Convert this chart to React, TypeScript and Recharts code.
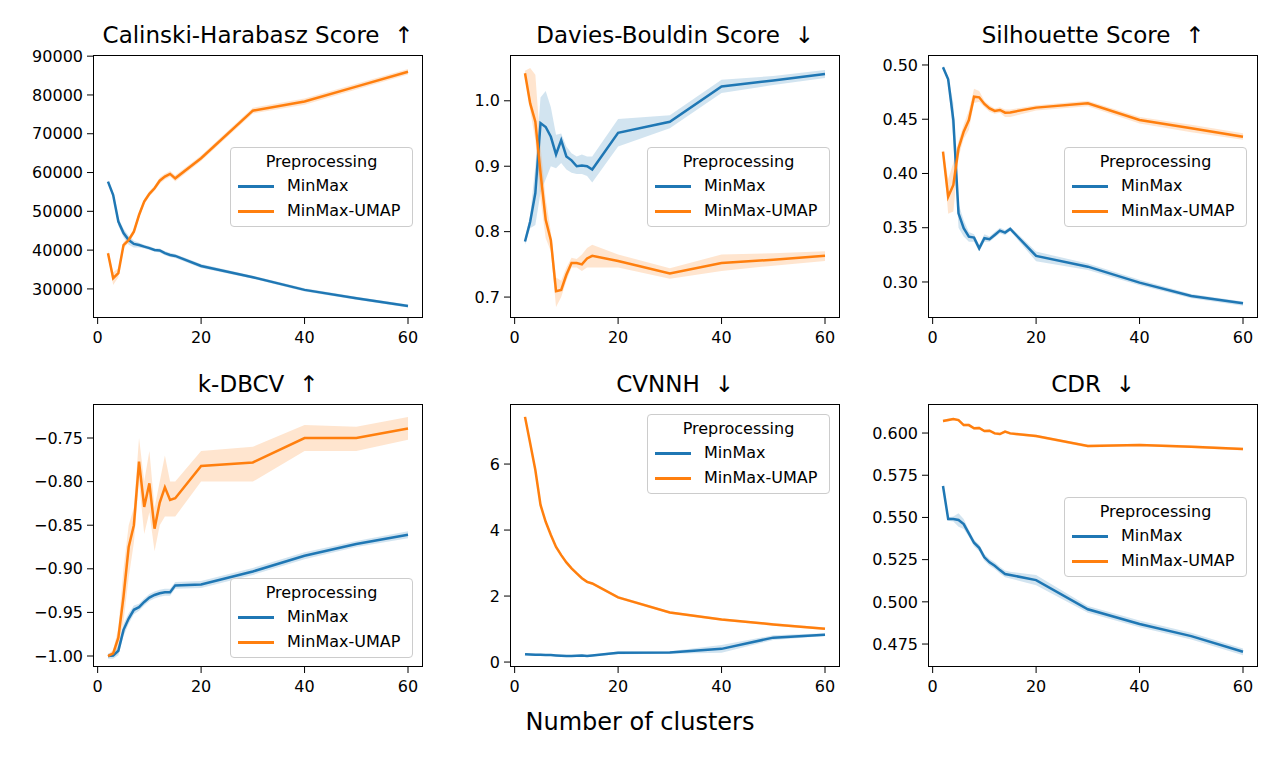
import { ComposedChart, Area, Line, XAxis, YAxis } from 'recharts'

const CLUSTERS = [2, 3, 4, 5, 6, 7, 8, 9, 10, 11, 12, 13, 14, 15, 20, 30, 40, 50, 60]
const X_TICKS = [0, 20, 40, 60]

// Calinski-Harabasz
const CH_MM = [57650, 54200, 47350, 44400, 42600, 41600, 41300, 40900, 40500, 40050, 39900, 39200, 38750, 38500, 35900, 33000, 29750, 27600, 25600]
const CH_MM_LO = [57300, 53600, 46300, 43300, 41400, 40700, 40700, 40400, 40000, 39600, 39400, 38700, 38200, 38000, 35400, 32600, 29300, 27200, 25200]
const CH_MM_HI = [58000, 54800, 48300, 45500, 43700, 42400, 41900, 41400, 41000, 40500, 40400, 39700, 39300, 39000, 36400, 33400, 30200, 28000, 26000]
const CH_UM = [39200, 32750, 34050, 41300, 42600, 44750, 49050, 52500, 54500, 55950, 57900, 58950, 59650, 58500, 63700, 75950, 78300, 82150, 86000]
const CH_UM_LO = [38500, 31000, 33000, 40500, 41900, 44000, 48200, 51800, 53800, 55300, 57100, 58200, 58900, 57700, 63000, 75200, 77500, 81400, 85300]
const CH_UM_HI = [39900, 34300, 35300, 42100, 43300, 45500, 49900, 53200, 55200, 56600, 58700, 59700, 60400, 59300, 64400, 76700, 79100, 82900, 86700]

// Davies-Bouldin
const DB_MM = [0.785, 0.815, 0.859, 0.966, 0.96, 0.945, 0.918, 0.94, 0.915, 0.909, 0.9, 0.901, 0.9, 0.895, 0.951, 0.968, 1.022, 1.031, 1.041]
const DB_MM_LO = [0.78, 0.805, 0.81, 0.86, 0.88, 0.9, 0.897, 0.905, 0.895, 0.89, 0.888, 0.888, 0.885, 0.875, 0.93, 0.958, 1.012, 1.024, 1.035]
const DB_MM_HI = [0.79, 0.825, 0.9, 1.005, 1.015, 0.99, 0.948, 0.95, 0.93, 0.92, 0.915, 0.918, 0.915, 0.915, 0.972, 0.978, 1.032, 1.038, 1.047]
const DB_UM = [1.042, 0.996, 0.968, 0.89, 0.818, 0.787, 0.709, 0.711, 0.734, 0.752, 0.752, 0.75, 0.759, 0.763, 0.755, 0.736, 0.752, 0.757, 0.763]
const DB_UM_LO = [1.038, 0.985, 0.94, 0.85, 0.79, 0.77, 0.685, 0.7, 0.725, 0.745, 0.745, 0.74, 0.745, 0.745, 0.745, 0.728, 0.74, 0.748, 0.755]
const DB_UM_HI = [1.046, 1.05, 1.04, 0.93, 0.85, 0.8, 0.73, 0.725, 0.745, 0.76, 0.758, 0.765, 0.775, 0.78, 0.765, 0.744, 0.765, 0.767, 0.77]

// Silhouette
const SIL_MM = [0.4979, 0.4868, 0.4493, 0.3633, 0.3495, 0.3418, 0.3409, 0.331, 0.3403, 0.3394, 0.3433, 0.3473, 0.3455, 0.3489, 0.324, 0.3141, 0.2994, 0.2871, 0.2803]
const SIL_MM_LO = [0.4965, 0.485, 0.43, 0.35, 0.342, 0.337, 0.337, 0.328, 0.337, 0.337, 0.341, 0.345, 0.343, 0.347, 0.319, 0.311, 0.297, 0.285, 0.278]
const SIL_MM_HI = [0.4995, 0.489, 0.465, 0.372, 0.357, 0.346, 0.344, 0.334, 0.344, 0.342, 0.346, 0.35, 0.348, 0.351, 0.328, 0.317, 0.302, 0.289, 0.282]
const SIL_UM = [0.4201, 0.3786, 0.3894, 0.4232, 0.4385, 0.4493, 0.4708, 0.4702, 0.4641, 0.46, 0.4576, 0.4585, 0.456, 0.4563, 0.4607, 0.4647, 0.4493, 0.4416, 0.4339]
const SIL_UM_LO = [0.418, 0.363, 0.365, 0.415, 0.432, 0.44, 0.465, 0.466, 0.461, 0.457, 0.455, 0.456, 0.452, 0.452, 0.458, 0.462, 0.446, 0.438, 0.431]
const SIL_UM_HI = [0.422, 0.395, 0.41, 0.43, 0.445, 0.458, 0.478, 0.476, 0.467, 0.463, 0.46, 0.461, 0.459, 0.459, 0.463, 0.467, 0.452, 0.445, 0.437]

// k-DBCV
const KD_MM = [-1.0, -0.9995, -0.994, -0.97, -0.957, -0.947, -0.944, -0.938, -0.933, -0.93, -0.928, -0.927, -0.927, -0.919, -0.918, -0.903, -0.885, -0.8716, -0.861]
const KD_MM_LO = [-1.003, -1.003, -0.999, -0.977, -0.963, -0.952, -0.948, -0.942, -0.937, -0.934, -0.932, -0.931, -0.931, -0.923, -0.922, -0.907, -0.889, -0.875, -0.865]
const KD_MM_HI = [-0.997, -0.996, -0.989, -0.963, -0.951, -0.942, -0.94, -0.934, -0.929, -0.926, -0.924, -0.923, -0.923, -0.915, -0.914, -0.899, -0.881, -0.868, -0.857]
const KD_UM = [-1.0, -0.997, -0.979, -0.932, -0.875, -0.85, -0.777, -0.829, -0.802, -0.854, -0.824, -0.8066, -0.821, -0.819, -0.782, -0.778, -0.75, -0.75, -0.739]
const KD_UM_LO = [-1.0, -1.0, -0.99, -0.96, -0.91, -0.87, -0.8, -0.86, -0.835, -0.88, -0.85, -0.84, -0.84, -0.84, -0.8, -0.8, -0.765, -0.765, -0.752]
const KD_UM_HI = [-0.998, -0.993, -0.968, -0.9, -0.85, -0.83, -0.75, -0.8, -0.765, -0.83, -0.8, -0.77, -0.8, -0.8, -0.765, -0.76, -0.735, -0.737, -0.726]

// CVNNH
const CV_MM = [0.24, 0.23, 0.22, 0.22, 0.21, 0.21, 0.2, 0.19, 0.18, 0.18, 0.19, 0.2, 0.18, 0.2, 0.28, 0.29, 0.4, 0.74, 0.83]
const CV_MM_LO = [0.21, 0.2, 0.19, 0.19, 0.18, 0.18, 0.17, 0.16, 0.15, 0.15, 0.16, 0.17, 0.15, 0.17, 0.24, 0.25, 0.28, 0.67, 0.79]
const CV_MM_HI = [0.27, 0.26, 0.25, 0.25, 0.24, 0.24, 0.23, 0.22, 0.21, 0.21, 0.22, 0.23, 0.21, 0.23, 0.32, 0.33, 0.52, 0.81, 0.87]
const CV_UM = [7.43, 6.63, 5.82, 4.76, 4.25, 3.85, 3.49, 3.24, 3.02, 2.84, 2.69, 2.54, 2.43, 2.38, 1.96, 1.5, 1.29, 1.14, 1.01]
const CV_UM_LO = [7.39, 6.59, 5.78, 4.72, 4.21, 3.81, 3.45, 3.2, 2.98, 2.8, 2.65, 2.5, 2.39, 2.34, 1.92, 1.46, 1.25, 1.1, 0.97]
const CV_UM_HI = [7.47, 6.67, 5.86, 4.8, 4.29, 3.89, 3.53, 3.28, 3.06, 2.88, 2.73, 2.58, 2.47, 2.42, 2.0, 1.54, 1.33, 1.18, 1.05]

// CDR
const CDR_MM = [0.5686, 0.5491, 0.5491, 0.5485, 0.5461, 0.5406, 0.535, 0.532, 0.5264, 0.5234, 0.5214, 0.5188, 0.5165, 0.5159, 0.5129, 0.4956, 0.4869, 0.4797, 0.4704]
const CDR_MM_LO = [0.5676, 0.5481, 0.5476, 0.5445, 0.5431, 0.5386, 0.533, 0.53, 0.5244, 0.5214, 0.5194, 0.5168, 0.5145, 0.5139, 0.5099, 0.4936, 0.4849, 0.4777, 0.4684]
const CDR_MM_HI = [0.5696, 0.5501, 0.5506, 0.5525, 0.5491, 0.5426, 0.537, 0.534, 0.5284, 0.5254, 0.5234, 0.5208, 0.5185, 0.5179, 0.5159, 0.4976, 0.4889, 0.4817, 0.4724]
const CDR_UM = [0.6071, 0.6077, 0.6083, 0.6077, 0.6047, 0.6047, 0.6028, 0.603, 0.6012, 0.6014, 0.5998, 0.5994, 0.6008, 0.5998, 0.5982, 0.5923, 0.5929, 0.5919, 0.5905]
const CDR_UM_LO = [0.6063, 0.6069, 0.6075, 0.6069, 0.6039, 0.6039, 0.602, 0.6022, 0.6004, 0.6006, 0.599, 0.5986, 0.6, 0.599, 0.5974, 0.5915, 0.5921, 0.5911, 0.5897]
const CDR_UM_HI = [0.6079, 0.6085, 0.6091, 0.6085, 0.6055, 0.6055, 0.6036, 0.6038, 0.602, 0.6022, 0.6006, 0.6002, 0.6016, 0.6006, 0.599, 0.5931, 0.5937, 0.5927, 0.5913]

const BLUE = '#1f77b4'
const ORANGE = '#ff7f0e'
const FONT = '"DejaVu Sans", sans-serif'

const Y_W = 80
const M_TOP = 15
const M_RIGHT = 10
const X_H = 40
const BOX_W = 330
const BOX_H = 263

const minus = (s: string) => s.replace('-', '\u2212')

const PANELS = [
  {
    title: 'Calinski-Harabasz Score  \u2191', left: 93, top: 55, domain: [22500, 90300],
    ticks: [30000, 40000, 50000, 60000, 70000, 80000, 90000], fmt: (v: number) => String(v),
    mm: [CH_MM, CH_MM_LO, CH_MM_HI], um: [CH_UM, CH_UM_LO, CH_UM_HI], legend: [137, 92],
  },
  {
    title: 'Davies-Bouldin Score  \u2193', left: 510, top: 55, domain: [0.668, 1.07],
    ticks: [0.7, 0.8, 0.9, 1.0], fmt: (v: number) => v.toFixed(1),
    mm: [DB_MM, DB_MM_LO, DB_MM_HI], um: [DB_UM, DB_UM_LO, DB_UM_HI], legend: [137, 92],
  },
  {
    title: 'Silhouette Score  \u2191', left: 928, top: 55, domain: [0.2668, 0.5092],
    ticks: [0.3, 0.35, 0.4, 0.45, 0.5], fmt: (v: number) => v.toFixed(2),
    mm: [SIL_MM, SIL_MM_LO, SIL_MM_HI], um: [SIL_UM, SIL_UM_LO, SIL_UM_HI], legend: [136, 92],
  },
  {
    title: 'k-DBCV  \u2191', left: 93, top: 404, domain: [-1.0126, -0.711],
    ticks: [-1.0, -0.95, -0.9, -0.85, -0.8, -0.75], fmt: (v: number) => minus(v.toFixed(2)),
    mm: [KD_MM, KD_MM_LO, KD_MM_HI], um: [KD_UM, KD_UM_LO, KD_UM_HI], legend: [137, 174],
  },
  {
    title: 'CVNNH  \u2193', left: 510, top: 404, domain: [-0.15, 7.82],
    ticks: [0, 2, 4, 6], fmt: (v: number) => String(v),
    mm: [CV_MM, CV_MM_LO, CV_MM_HI], um: [CV_UM, CV_UM_LO, CV_UM_HI], legend: [137, 10],
  },
  {
    title: 'CDR  \u2193', left: 928, top: 404, domain: [0.4614, 0.6172],
    ticks: [0.475, 0.5, 0.525, 0.55, 0.575, 0.6], fmt: (v: number) => v.toFixed(3),
    mm: [CDR_MM, CDR_MM_LO, CDR_MM_HI], um: [CDR_UM, CDR_UM_LO, CDR_UM_HI], legend: [136, 93],
  },
]

const SERIES = [
  { name: 'MinMax', color: BLUE },
  { name: 'MinMax-UMAP', color: ORANGE },
]

function LegendBox({ x, y }: { x: number; y: number }) {
  return (
    <div style={{
      position: 'absolute', left: x, top: y, width: 183, height: 80, boxSizing: 'border-box',
      background: 'rgba(255,255,255,0.8)', border: '1px solid #cccccc', borderRadius: 4,
      fontFamily: FONT, fontSize: 16, color: '#000',
    }}>
      <div style={{ position: 'absolute', left: 0, right: 0, top: 4, textAlign: 'center', lineHeight: '20px' }}>Preprocessing</div>
      {SERIES.map((s, i) => (
        <div key={s.name} style={{ position: 'absolute', left: 0, top: 28 + i * 25, height: 20, width: '100%' }}>
          <div style={{ position: 'absolute', left: 7, top: 9, width: 36, height: 2.5, background: s.color }} />
          <div style={{ position: 'absolute', left: 56, top: 0, lineHeight: '20px' }}>{s.name}</div>
        </div>
      ))}
    </div>
  )
}

function Panel({ p }: { p: (typeof PANELS)[number] }) {
  const data = CLUSTERS.map((x, i) => ({
    x,
    mm: p.mm[0][i],
    mmBand: [p.mm[1][i], p.mm[2][i]],
    um: p.um[0][i],
    umBand: [p.um[1][i], p.um[2][i]],
  }))
  const tick = { fill: '#000', fontSize: 16, fontFamily: FONT }
  return (
    <div style={{ position: 'absolute', left: p.left - Y_W, top: p.top - M_TOP }}>
      <div style={{
        position: 'absolute', left: Y_W, top: M_TOP - 35, width: BOX_W, textAlign: 'center',
        fontFamily: FONT, fontSize: 23, lineHeight: '30px', whiteSpace: 'pre', color: '#000',
      }}>{p.title}</div>
      <ComposedChart
        width={Y_W + BOX_W + M_RIGHT}
        height={M_TOP + BOX_H + X_H}
        data={data}
        margin={{ top: M_TOP, right: M_RIGHT, bottom: 0, left: 0 }}
      >
        <XAxis
          dataKey="x" type="number" domain={[-0.9, 62.9]} ticks={X_TICKS} interval={0}
          allowDataOverflow height={X_H} axisLine={false} tickLine={{ stroke: '#000' }}
          tickSize={6} tickMargin={8} tick={tick}
        />
        <YAxis
          type="number" domain={p.domain} ticks={p.ticks} interval={0} allowDataOverflow
          width={Y_W} axisLine={false} tickLine={{ stroke: '#000' }} tickSize={6} tickMargin={4}
          tick={tick} tickFormatter={p.fmt}
        />
        <Area dataKey="mmBand" type="linear" stroke="none" fill={BLUE} fillOpacity={0.2} isAnimationActive={false} />
        <Line dataKey="mm" type="linear" stroke={BLUE} strokeWidth={2.5} dot={false} isAnimationActive={false} />
        <Area dataKey="umBand" type="linear" stroke="none" fill={ORANGE} fillOpacity={0.2} isAnimationActive={false} />
        <Line dataKey="um" type="linear" stroke={ORANGE} strokeWidth={2.5} dot={false} isAnimationActive={false} />
      </ComposedChart>
      <div style={{
        position: 'absolute', left: Y_W, top: M_TOP, width: BOX_W, height: BOX_H,
        boxSizing: 'border-box', border: '1px solid #000', pointerEvents: 'none',
      }} />
      <div style={{ position: 'absolute', left: Y_W, top: M_TOP }}>
        <LegendBox x={p.legend[0]} y={p.legend[1]} />
      </div>
    </div>
  )
}

export default function App() {
  return (
    <div style={{ position: 'absolute', left: 0, top: 0, width: 1280, height: 768, background: '#fff' }}>
      {PANELS.map((p) => <Panel key={p.title} p={p} />)}
      <div style={{
        position: 'absolute', left: 0, width: 1280, top: 707, textAlign: 'center',
        fontFamily: FONT, fontSize: 24, lineHeight: '30px', color: '#000',
      }}>Number of clusters</div>
    </div>
  )
}
